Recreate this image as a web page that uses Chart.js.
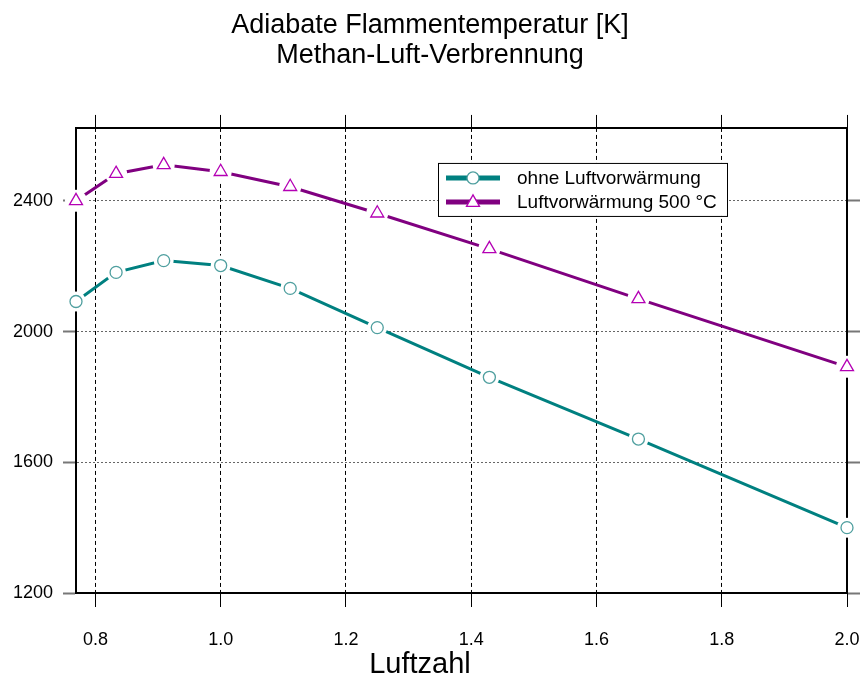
<!DOCTYPE html>
<html>
<head>
<meta charset="utf-8">
<script src="https://cdn.jsdelivr.net/npm/chart.js@4/dist/chart.umd.min.js"></script>
<style>
  html, body { margin: 0; padding: 0; background: #fff; }
</style>
</head>
<body>
<canvas id="flamme" width="860" height="677"></canvas>
<script>
// Werte
var luftzahl = [0.769, 0.833, 0.909, 1.0, 1.111, 1.25, 1.429, 1.667, 2.0];
var ohneVorwaermung = [2092, 2181, 2217, 2202, 2132, 2012, 1860, 1671, 1400];
var mitVorwaermung = [2400, 2483, 2510, 2489, 2443, 2362, 2253, 2100, 1892];
var xTicks = [0.8, 1.0, 1.2, 1.4, 1.6, 1.8, 2.0];
var yTicks = [1200, 1600, 2000, 2400];
var serienNamen = ["ohne Luftvorwärmung", "Luftvorwärmung 500 °C"];
var titelZeilen = ["Adiabate Flammentemperatur [K]", "Methan-Luft-Verbrennung"];
var xTitel = "Luftzahl";

var schrift = "'Liberation Sans', Arial, sans-serif";
var tuerkis = "#008080";
var tuerkisRand = "#4f9f9f";
var lila = "#800080";
var lilaRand = "#b400b4";

function punkte(ys) {
  return luftzahl.map(function (x, i) { return { x: x, y: ys[i] }; });
}

// legende von hand, liegt innerhalb der zeichenflaeche
var legendePlugin = {
  id: "legendeInnen",
  afterDraw: function (chart) {
    var ctx = chart.ctx;
    var a = chart.chartArea;
    var links = a.left + 362, oben = a.top + 35, breite = 289, hoehe = 53;
    ctx.save();
    ctx.fillStyle = "#fff";
    ctx.fillRect(links, oben, breite, hoehe);
    ctx.strokeStyle = "#000";
    ctx.lineWidth = 1;
    ctx.strokeRect(links + 0.5, oben + 0.5, breite, hoehe);
    var zeilen = [
      { text: serienNamen[0], farbe: tuerkis, rand: tuerkisRand, form: "kreis" },
      { text: serienNamen[1], farbe: lila, rand: lilaRand, form: "dreieck" }
    ];
    zeilen.forEach(function (z, i) {
      var y = oben + 15 + i * 24;
      ctx.strokeStyle = z.farbe;
      ctx.lineWidth = 5;
      ctx.beginPath();
      ctx.moveTo(links + 8, y);
      ctx.lineTo(links + 62, y);
      ctx.stroke();
      var mx = links + 35;
      ctx.fillStyle = "#fff";
      ctx.strokeStyle = z.rand;
      ctx.lineWidth = 1.3;
      ctx.beginPath();
      if (z.form === "kreis") {
        ctx.arc(mx, y, 6, 0, Math.PI * 2);
      } else {
        ctx.moveTo(mx, y - 7);
        ctx.lineTo(mx + 6.5, y + 4.5);
        ctx.lineTo(mx - 6.5, y + 4.5);
        ctx.closePath();
      }
      ctx.fill();
      ctx.stroke();
      ctx.fillStyle = "#000";
      ctx.font = "19px " + schrift;
      ctx.textBaseline = "middle";
      ctx.textAlign = "left";
      ctx.fillText(z.text, links + 79, y + 1);
    });
    // achsentitel unten, etwas links der mitte wie im original
    ctx.font = "29px " + schrift;
    ctx.textAlign = "center";
    ctx.textBaseline = "middle";
    ctx.fillText(xTitel, 420, 665);
    ctx.restore();
  }
};

function festeTicks(liste) {
  return function (scale) {
    scale.ticks = liste.map(function (v) { return { value: v }; });
  };
}

// feste groessen, ohne zusatzabstand fuer ueberstehende beschriftungen
function festeGroesse(breite, hoehe) {
  return function (s) {
    if (breite !== null) s.width = breite;
    if (hoehe !== null) s.height = hoehe;
    s.paddingLeft = 0;
    s.paddingRight = 0;
    s.paddingTop = 0;
    s.paddingBottom = 0;
  };
}

new Chart("flamme", {
  type: "line",
  data: {
    datasets: [
      // linien
      { label: serienNamen[0], data: punkte(ohneVorwaermung), borderColor: tuerkis, borderWidth: 3,
        pointRadius: 0, fill: false, tension: 0, order: 3, clip: false },
      { label: serienNamen[1], data: punkte(mitVorwaermung), borderColor: lila, borderWidth: 3,
        pointRadius: 0, fill: false, tension: 0, order: 3, clip: false },
      // weisse luecken um die marker
      { label: "", data: punkte(ohneVorwaermung), showLine: false, pointRadius: 10,
        pointBackgroundColor: "#fff", pointBorderWidth: 0, pointBorderColor: "#fff", order: 2, clip: false },
      { label: "", data: punkte(mitVorwaermung), showLine: false, pointRadius: 11,
        pointBackgroundColor: "#fff", pointBorderWidth: 0, pointBorderColor: "#fff", order: 2, clip: false },
      // marker
      { label: "", data: punkte(ohneVorwaermung), showLine: false, pointStyle: "circle", pointRadius: 6,
        pointBackgroundColor: "#fff", pointBorderColor: tuerkisRand, pointBorderWidth: 1.3, order: 1, clip: false },
      { label: "", data: punkte(mitVorwaermung), showLine: false, pointStyle: "triangle", pointRadius: 7.5,
        pointBackgroundColor: "#fff", pointBorderColor: lilaRand, pointBorderWidth: 1.3, order: 1, clip: false }
    ]
  },
  options: {
    responsive: false,
    animation: false,
    events: [],
    layout: { padding: 0 },
    plugins: {
      legend: { display: false },
      tooltip: { enabled: false },
      title: {
        display: true,
        text: titelZeilen,
        color: "#000",
        font: { family: schrift, size: 27, weight: "normal", lineHeight: 1.11 },
        padding: { top: 11, bottom: 44 }
      }
    },
    scales: {
      x: {
        type: "linear",
        position: "bottom",
        min: luftzahl[0],
        max: 2.0,
        z: 1,
        afterBuildTicks: festeTicks(xTicks),
        afterFit: festeGroesse(null, 84),
        ticks: {
          color: "#000", font: { family: schrift, size: 18 }, padding: 22, maxRotation: 0,
          callback: function (v) { return Number(v).toFixed(1); }
        },
        grid: {
          color: "#000", lineWidth: 1, tickLength: 14,
          tickColor: "#000", tickWidth: 1, tickBorderDash: []
        },
        border: { display: true, color: "#000", width: 2, dash: [4, 3] }
      },
      xOben: {
        type: "linear",
        position: "top",
        min: luftzahl[0],
        max: 2.0,
        z: 1,
        afterBuildTicks: festeTicks(xTicks),
        afterFit: festeGroesse(null, 13),
        ticks: { display: false },
        grid: { drawOnChartArea: false, tickLength: 13, tickColor: "#000", tickWidth: 1, tickBorderDash: [] },
        border: { display: true, color: "#000", width: 2 }
      },
      y: {
        type: "linear",
        position: "left",
        min: 1200,
        max: 2623,
        z: 1,
        afterBuildTicks: festeTicks(yTicks),
        afterFit: festeGroesse(76, null),
        ticks: {
          color: "#000", font: { family: schrift, size: 18 }, padding: 10,
          callback: function (v) { return String(v); }
        },
        grid: {
          color: "#666", lineWidth: 1, tickLength: 13,
          tickColor: "#777", tickWidth: 2, tickBorderDash: []
        },
        border: { display: true, color: "#000", width: 2, dash: [2, 2] }
      },
      yRechts: {
        type: "linear",
        position: "right",
        min: 1200,
        max: 2623,
        z: 1,
        afterBuildTicks: festeTicks(yTicks),
        afterFit: festeGroesse(13, null),
        ticks: { display: false },
        grid: { drawOnChartArea: false, tickLength: 13, tickColor: "#777", tickWidth: 2, tickBorderDash: [] },
        border: { display: true, color: "#000", width: 2 }
      }
    }
  },
  plugins: [legendePlugin]
});
</script>
</body>
</html>
